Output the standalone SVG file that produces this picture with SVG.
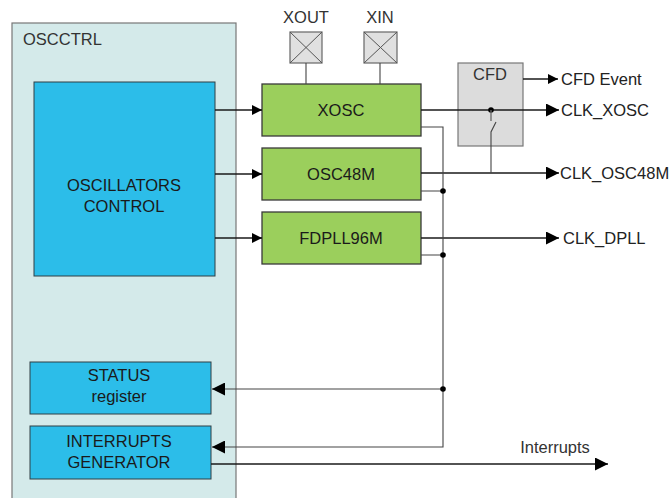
<svg xmlns="http://www.w3.org/2000/svg" width="671" height="498" viewBox="0 0 671 498">
<defs>
<style>
text{font-family:"Liberation Sans",Arial,sans-serif;fill:#1a1a1a;}
.lbl{font-size:16.5px;text-anchor:middle;}
.out{font-size:16.5px;fill:#222;}
.gray{fill:#333;}
.green{fill:#9bcf5c;stroke:#3a3a3a;stroke-width:1.3;}
.blue{fill:#2cbde9;stroke:#2f3f45;stroke-width:1;}
.pad{fill:#e0e0e0;stroke:#666;stroke-width:1.2;}
.ln{fill:none;stroke:#1a1a1a;stroke-width:1.4;}
.thin{fill:none;stroke:#444;stroke-width:1.1;}
</style>
<marker id="ah" viewBox="0 0 10 10" refX="10" refY="5" markerWidth="10" markerHeight="10" markerUnits="userSpaceOnUse" orient="auto">
<path d="M0,0 L10,5 L0,10 z" fill="#000"/>
</marker>
<marker id="ahl" viewBox="0 0 12 12" refX="12" refY="6" markerWidth="13" markerHeight="13" markerUnits="userSpaceOnUse" orient="auto">
<path d="M0,0 L12,6 L0,12 z" fill="#000"/>
</marker>
</defs>
<rect width="671" height="498" fill="#fff"/>

<g id="oscctrl">
<rect x="12" y="23" width="224" height="490" fill="#d4eaea" stroke="#777" stroke-width="1.2"/>
<text x="23" y="45" class="gray" font-size="16.5">OSCCTRL</text>
</g>

<g id="osc-control">
<rect x="34" y="82" width="181" height="194" class="blue"/>
<text x="124" y="191" class="lbl">OSCILLATORS</text>
<text x="124" y="212" class="lbl">CONTROL</text>
</g>

<g id="status">
<rect x="30" y="362" width="181" height="52" class="blue"/>
<text x="119" y="381" class="lbl">STATUS</text>
<text x="119" y="402" class="lbl">register</text>
</g>

<g id="intgen">
<rect x="30" y="426" width="181" height="53" class="blue"/>
<text x="119" y="447" class="lbl">INTERRUPTS</text>
<text x="119" y="468" class="lbl">GENERATOR</text>
</g>

<g id="xout">
<text x="306" y="23" class="lbl gray">XOUT</text>
<rect x="290" y="32" width="32" height="31" class="pad"/>
<path d="M290,32 L322,63 M322,32 L290,63" stroke="#555" stroke-width="1"/>
</g>

<g id="xin">
<text x="380" y="23" class="lbl gray">XIN</text>
<rect x="364" y="32" width="33" height="31" class="pad"/>
<path d="M364,32 L397,63 M397,32 L364,63" stroke="#555" stroke-width="1"/>
</g>

<g id="xosc">
<rect x="262" y="84" width="159" height="52" class="green"/>
<text x="341" y="116" class="lbl">XOSC</text>
</g>

<g id="osc48m">
<rect x="262" y="148" width="159" height="52" class="green"/>
<text x="341" y="180" class="lbl">OSC48M</text>
</g>

<g id="fdpll">
<rect x="262" y="212" width="159" height="52" class="green"/>
<text x="341" y="244" class="lbl">FDPLL96M</text>
</g>

<g id="cfd">
<rect x="458" y="63" width="65" height="83" fill="#dcdcdc" stroke="#777" stroke-width="1.2"/>
<text x="490" y="80" class="lbl gray">CFD</text>
</g>

<g id="connectors">
<path d="M306,63 V84 M380,63 V84" class="thin"/>
<path d="M215,110 H262" class="ln" marker-end="url(#ah)"/>
<path d="M215,174 H262" class="ln" marker-end="url(#ah)"/>
<path d="M215,238 H262" class="ln" marker-end="url(#ah)"/>
<path d="M523,79 H558" class="ln" marker-end="url(#ah)"/>
<path d="M421,110 H559" class="ln" marker-end="url(#ahl)"/>
<path d="M421,173 H559" class="ln" marker-end="url(#ahl)"/>
<path d="M421,238 H559" class="ln" marker-end="url(#ahl)"/>
<circle cx="491" cy="110" r="2.8" fill="#000"/>
<path d="M491,110 V121" stroke="#666" stroke-width="1.3"/>
<path d="M496,122 L491,132 V173" class="thin"/>
<path d="M421,127 H443 V447 H212" class="thin" marker-end="url(#ahl)"/>
<path d="M421,191 H443 M421,255 H443" class="thin"/>
<path d="M443,389 H212" class="thin" marker-end="url(#ahl)"/>
<circle cx="443" cy="191" r="2.8" fill="#000"/>
<circle cx="443" cy="255" r="2.8" fill="#000"/>
<circle cx="443" cy="389" r="2.8" fill="#000"/>
<path d="M211,464 H608" class="ln" marker-end="url(#ahl)"/>
</g>

<g id="labels">
<text x="561" y="85" class="out">CFD Event</text>
<text x="561" y="116" class="out">CLK_XOSC</text>
<text x="560" y="179" class="out">CLK_OSC48M</text>
<text x="563" y="244" class="out">CLK_DPLL</text>
<text x="555" y="453" class="lbl gray">Interrupts</text>
</g>
</svg>
